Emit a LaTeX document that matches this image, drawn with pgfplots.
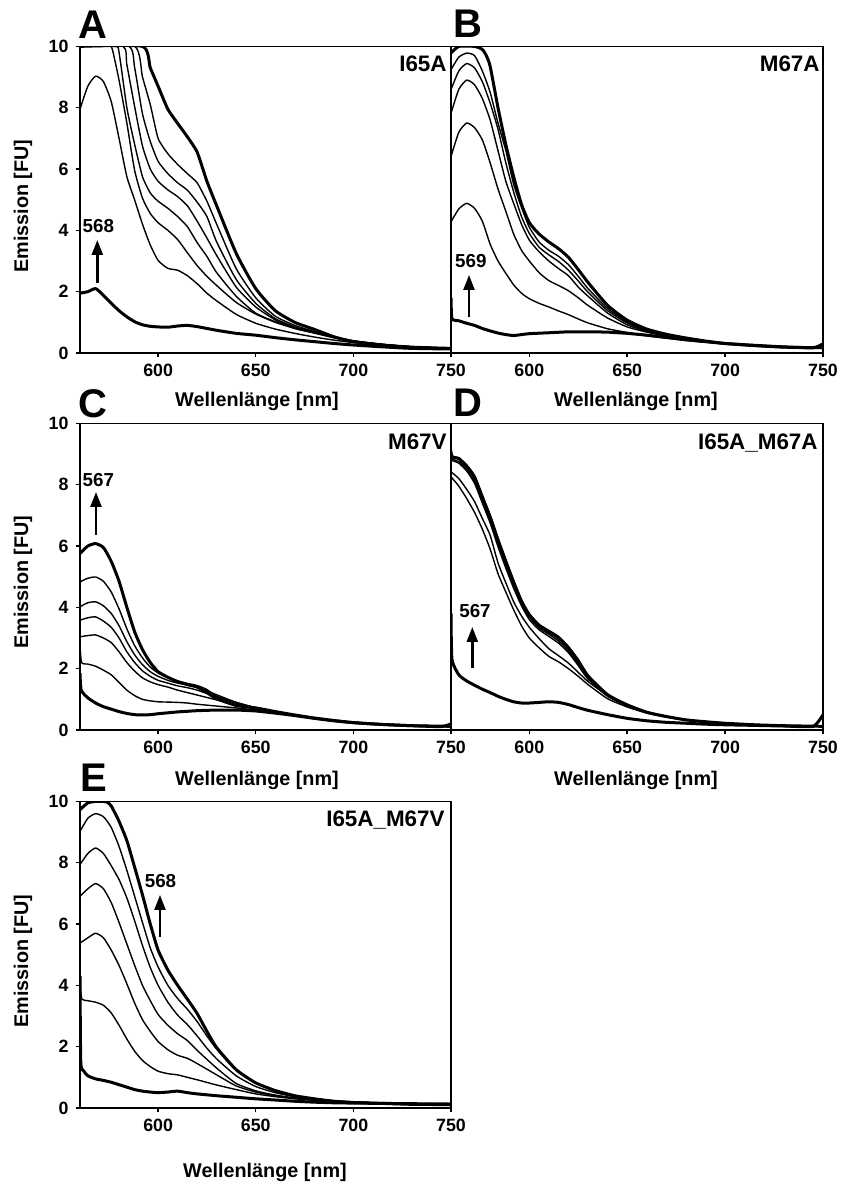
\documentclass[border=0pt]{standalone}
\usepackage{fontspec}
\setmainfont{Liberation Sans}
\usepackage{pgfplots}
\pgfplotsset{compat=1.18}
\usetikzlibrary{arrows.meta}
\pgfplotsset{
  panel/.style={scale only axis, width=185.5pt, height=153.3pt,
    xmin=560, xmax=750, ymin=0, ymax=10,
    xtick={600,650,700,750}, ytick={0,2,4,6,8,10},
    tick align=outside, tick pos=left, major tick length=2.2pt,
    axis line style={line width=0.75pt},
    every tick/.style={black, line width=0.75pt},
    tick label style={font=\bfseries\fontsize{8.9}{10}\selectfont},
    /pgf/number format/assume math mode=true,
    every axis plot/.append style={black, line join=round, smooth, tension=0.35, mark=none}},
  thn/.style={line width=0.7pt},
  thk/.style={line width=1.5pt},
}
\begin{document}
\begin{tikzpicture}
\useasboundingbox (0,0) rectangle (420pt,591pt);
% ---------------- A ----------------
\begin{axis}[panel, at={(40pt,414.5pt)}, anchor=south west]
\addplot[thk] coordinates {(560,1.95)(564,2.0)(568,2.1)(572,1.88)(576,1.62)(580,1.38)(584,1.18)(588,1.02)(592,0.92)(596,0.87)(600,0.85)(605,0.84)(610,0.88)(615,0.9)(620,0.86)(625,0.8)(630,0.74)(640,0.64)(650,0.58)(660,0.5)(670,0.43)(680,0.37)(690,0.31)(700,0.26)(715,0.2)(730,0.15)(750,0.13)};
\addplot[thn] coordinates {(560,7.95)(564,8.7)(568,9.03)(572,8.85)(576,8.2)(580,7.0)(584,5.75)(588,4.99)(592,4.2)(596,3.52)(600,3.02)(605,2.76)(610,2.7)(615,2.52)(620,2.26)(625,1.95)(630,1.7)(640,1.26)(650,0.97)(660,0.78)(670,0.64)(680,0.52)(690,0.42)(700,0.34)(715,0.25)(730,0.19)(750,0.15)};
\addplot[thn] coordinates {(560,10)(572,10)(576,10)(578,9.5)(580,8.9)(584,7.5)(588,5.95)(592,5.05)(596,4.55)(600,4.25)(605,4.0)(610,3.7)(615,3.27)(620,2.85)(625,2.5)(630,2.2)(640,1.65)(650,1.27)(660,1.0)(670,0.8)(680,0.65)(690,0.5)(700,0.38)(715,0.27)(730,0.2)(750,0.15)};
\addplot[thn] coordinates {(560,10)(578,10)(580,9.8)(584,8.0)(588,6.8)(592,5.75)(596,5.22)(600,4.95)(605,4.72)(610,4.45)(615,4.12)(620,3.6)(625,3.15)(630,2.62)(640,1.85)(650,1.3)(660,1.02)(670,0.82)(680,0.66)(690,0.5)(700,0.38)(715,0.27)(730,0.2)(750,0.15)};
\addplot[thn] coordinates {(560,10)(582,10)(584,9.4)(588,8.03)(592,6.75)(596,6.0)(600,5.6)(605,5.32)(610,5.1)(615,4.8)(620,4.3)(625,3.75)(630,3.18)(640,2.15)(650,1.5)(660,1.08)(670,0.8)(680,0.66)(690,0.52)(700,0.39)(715,0.28)(730,0.2)(750,0.15)};
\addplot[thn] coordinates {(560,10)(585,10)(588,9.3)(592,7.8)(596,6.9)(600,6.25)(605,5.85)(610,5.55)(615,5.31)(620,4.92)(625,4.45)(630,3.62)(640,2.4)(650,1.62)(660,1.12)(670,0.85)(680,0.68)(690,0.52)(700,0.39)(715,0.28)(730,0.2)(750,0.15)};
\addplot[thn] coordinates {(560,10)(588,10)(592,9.0)(596,8.1)(600,7.0)(605,6.5)(610,6.15)(615,5.85)(620,5.55)(625,4.95)(630,4.2)(640,2.75)(650,1.8)(660,1.2)(670,0.9)(680,0.7)(690,0.53)(700,0.4)(715,0.28)(730,0.2)(750,0.15)};
\addplot[thk] coordinates {(560,10)(592,10)(596,9.3)(600,8.7)(605,7.95)(610,7.49)(615,7.05)(620,6.55)(625,5.6)(630,4.8)(640,3.25)(650,2.1)(660,1.38)(670,1.0)(680,0.77)(690,0.53)(700,0.37)(715,0.26)(730,0.19)(750,0.15)};
\end{axis}
% ---------------- B ----------------
\begin{axis}[panel, at={(225.5pt,414.5pt)}, anchor=south west, width=186pt, ytick=\empty]
\addplot[thk] coordinates {(560,1.8)(560.5,1.12)(564,1.05)(568,0.97)(572,0.9)(576,0.8)(580,0.72)(584,0.65)(588,0.6)(592,0.57)(596,0.6)(600,0.63)(610,0.66)(620,0.69)(630,0.69)(640,0.68)(650,0.64)(660,0.58)(670,0.51)(680,0.43)(690,0.37)(700,0.31)(715,0.25)(730,0.2)(745,0.17)(750,0.3)};
\addplot[thn] coordinates {(560,4.28)(564,4.7)(568,4.88)(572,4.72)(576,4.3)(580,3.55)(584,3.0)(588,2.6)(592,2.22)(596,1.95)(600,1.77)(605,1.62)(610,1.5)(615,1.37)(620,1.25)(625,1.11)(630,0.98)(640,0.79)(650,0.67)(660,0.56)(670,0.48)(680,0.41)(690,0.35)(700,0.3)(715,0.24)(730,0.19)(750,0.17)};
\addplot[thn] coordinates {(560,6.41)(564,7.2)(568,7.5)(572,7.35)(576,6.95)(580,6.2)(584,5.35)(588,4.62)(592,3.88)(596,3.35)(600,3.0)(605,2.62)(610,2.36)(615,2.2)(620,2.03)(625,1.8)(630,1.55)(640,1.14)(650,0.85)(660,0.68)(670,0.55)(680,0.45)(690,0.37)(700,0.31)(715,0.24)(730,0.19)(750,0.17)};
\addplot[thn] coordinates {(560,7.82)(564,8.6)(568,8.9)(572,8.75)(576,8.3)(580,7.6)(584,6.6)(588,5.6)(592,4.88)(596,4.2)(600,3.68)(605,3.3)(610,3.0)(615,2.75)(620,2.52)(625,2.15)(630,1.85)(640,1.3)(650,0.92)(660,0.7)(670,0.56)(680,0.46)(690,0.38)(700,0.31)(715,0.24)(730,0.19)(750,0.17)};
\addplot[thn] coordinates {(560,8.59)(564,9.2)(568,9.44)(572,9.3)(576,8.85)(580,8.15)(584,7.3)(588,6.2)(592,5.25)(596,4.45)(600,3.9)(605,3.45)(610,3.2)(615,2.98)(620,2.7)(625,2.35)(630,1.98)(640,1.38)(650,0.98)(660,0.73)(670,0.58)(680,0.47)(690,0.38)(700,0.31)(715,0.24)(730,0.19)(750,0.17)};
\addplot[thn] coordinates {(560,9.24)(564,9.65)(568,9.78)(572,9.7)(576,9.2)(580,8.5)(584,7.5)(588,6.6)(592,5.5)(596,4.75)(600,4.1)(605,3.62)(610,3.35)(615,3.15)(620,2.88)(625,2.5)(630,2.1)(640,1.45)(650,1.02)(660,0.76)(670,0.6)(680,0.48)(690,0.39)(700,0.31)(715,0.24)(730,0.19)(750,0.17)};
\addplot[thk] coordinates {(560,9.78)(564,10)(572,10)(576,9.9)(578,9.7)(580,9.35)(584,8.0)(588,6.8)(592,5.75)(596,4.85)(600,4.25)(605,3.88)(610,3.62)(615,3.4)(620,3.12)(625,2.72)(630,2.3)(640,1.55)(650,1.07)(660,0.78)(670,0.61)(680,0.49)(690,0.39)(700,0.31)(715,0.24)(730,0.19)(750,0.17)};
\end{axis}
% ---------------- C ----------------
\begin{axis}[panel, at={(40pt,226pt)}, anchor=south west]
\addplot[thk] coordinates {(560,1.85)(560.6,1.3)(564,1.05)(568,0.88)(572,0.76)(576,0.68)(580,0.6)(584,0.54)(588,0.5)(592,0.49)(596,0.5)(600,0.53)(605,0.56)(610,0.59)(615,0.61)(620,0.63)(630,0.65)(640,0.65)(650,0.62)(660,0.55)(670,0.47)(680,0.38)(690,0.3)(700,0.24)(715,0.18)(730,0.14)(745,0.11)(750,0.2)};
\addplot[thn] coordinates {(560,2.8)(560.8,2.2)(564,2.15)(568,2.08)(572,1.95)(576,1.8)(580,1.55)(584,1.3)(588,1.12)(592,1.0)(596,0.95)(600,0.92)(605,0.91)(610,0.9)(615,0.88)(620,0.84)(630,0.78)(640,0.72)(650,0.65)(660,0.56)(670,0.48)(680,0.39)(690,0.31)(700,0.24)(715,0.18)(730,0.14)(750,0.12)};
\addplot[thn] coordinates {(560,3.04)(564,3.08)(568,3.1)(572,3.0)(576,2.85)(580,2.55)(584,2.2)(588,1.92)(592,1.7)(596,1.57)(600,1.48)(605,1.4)(610,1.3)(615,1.22)(620,1.14)(630,0.98)(640,0.82)(650,0.68)(660,0.57)(670,0.48)(680,0.39)(690,0.31)(700,0.24)(715,0.18)(730,0.14)(750,0.12)};
\addplot[thn] coordinates {(560,3.58)(564,3.66)(568,3.69)(572,3.55)(576,3.35)(580,3.0)(584,2.55)(588,2.2)(592,1.93)(596,1.75)(600,1.62)(605,1.53)(610,1.44)(615,1.38)(620,1.3)(630,1.08)(640,0.87)(650,0.7)(660,0.58)(670,0.48)(680,0.39)(690,0.31)(700,0.24)(715,0.18)(730,0.14)(750,0.12)};
\addplot[thn] coordinates {(560,4.02)(564,4.15)(568,4.18)(572,4.05)(576,3.8)(580,3.4)(584,2.88)(588,2.45)(592,2.13)(596,1.9)(600,1.75)(605,1.62)(610,1.53)(615,1.47)(620,1.4)(630,1.15)(640,0.9)(650,0.72)(660,0.58)(670,0.48)(680,0.39)(690,0.31)(700,0.24)(715,0.18)(730,0.14)(750,0.12)};
\addplot[thn] coordinates {(560,4.83)(564,4.95)(568,4.99)(572,4.85)(576,4.5)(580,3.95)(584,3.3)(588,2.75)(592,2.35)(596,2.05)(600,1.86)(605,1.7)(610,1.6)(615,1.52)(620,1.45)(625,1.32)(630,1.1)(640,0.9)(650,0.73)(660,0.6)(670,0.49)(680,0.39)(690,0.31)(700,0.24)(715,0.18)(730,0.14)(750,0.12)};
\addplot[thk] coordinates {(560,5.76)(564,6.0)(568,6.08)(572,5.95)(576,5.5)(580,4.85)(584,4.0)(588,3.2)(592,2.62)(596,2.2)(600,1.9)(605,1.72)(610,1.58)(615,1.48)(620,1.4)(625,1.22)(630,1.02)(640,0.8)(650,0.72)(660,0.6)(670,0.49)(680,0.39)(690,0.31)(700,0.24)(715,0.18)(730,0.14)(750,0.12)};
\end{axis}
% ---------------- D ----------------
\begin{axis}[panel, at={(225.5pt,226pt)}, anchor=south west, width=186pt, ytick=\empty]
\addplot[thk] coordinates {(560,3.8)(560.5,2.3)(564,1.8)(568,1.6)(572,1.46)(576,1.33)(580,1.22)(584,1.1)(588,1.0)(592,0.92)(596,0.88)(600,0.88)(605,0.9)(610,0.92)(615,0.9)(620,0.83)(625,0.73)(630,0.64)(640,0.5)(650,0.38)(660,0.3)(670,0.25)(680,0.22)(690,0.19)(700,0.17)(715,0.15)(730,0.13)(745,0.12)(750,0.5)};
\addplot[thn] coordinates {(560,8.26)(564,7.95)(568,7.55)(572,7.1)(576,6.55)(580,5.9)(584,5.1)(588,4.5)(592,3.92)(596,3.4)(600,3.0)(605,2.68)(610,2.4)(615,2.22)(620,2.0)(625,1.75)(630,1.48)(640,1.02)(650,0.75)(660,0.55)(670,0.42)(680,0.32)(690,0.26)(700,0.21)(715,0.17)(730,0.14)(750,0.12)};
\addplot[thn] coordinates {(560,8.42)(564,8.2)(568,7.85)(572,7.45)(576,6.9)(580,6.35)(584,5.45)(588,4.8)(592,4.18)(596,3.72)(600,3.35)(605,2.98)(610,2.65)(615,2.42)(620,2.18)(625,1.88)(630,1.58)(640,1.12)(650,0.8)(660,0.58)(670,0.44)(680,0.33)(690,0.27)(700,0.22)(715,0.17)(730,0.14)(750,0.12)};
\addplot[thn] coordinates {(560,8.8)(564,8.7)(568,8.45)(572,8.05)(576,7.4)(580,6.75)(584,5.98)(588,5.28)(592,4.62)(596,4.05)(600,3.6)(605,3.27)(610,3.05)(615,2.83)(620,2.52)(625,2.1)(630,1.66)(640,1.1)(650,0.79)(660,0.57)(670,0.43)(680,0.33)(690,0.27)(700,0.22)(715,0.17)(730,0.14)(750,0.12)};
\addplot[thn] coordinates {(560,8.85)(564,8.75)(568,8.5)(572,8.12)(576,7.5)(580,6.85)(584,6.1)(588,5.4)(592,4.72)(596,4.12)(600,3.68)(605,3.33)(610,3.12)(615,2.9)(620,2.58)(625,2.15)(630,1.7)(640,1.12)(650,0.8)(660,0.57)(670,0.43)(680,0.33)(690,0.27)(700,0.22)(715,0.17)(730,0.14)(750,0.12)};
\addplot[thn] coordinates {(560,9.2)(561,8.92)(564,8.88)(568,8.65)(572,8.3)(576,7.65)(580,7.0)(584,6.25)(588,5.55)(592,4.88)(596,4.25)(600,3.8)(605,3.45)(610,3.25)(615,3.05)(620,2.72)(625,2.3)(630,1.8)(640,1.17)(650,0.83)(660,0.59)(670,0.45)(680,0.34)(690,0.27)(700,0.22)(715,0.17)(730,0.14)(750,0.12)};
\addplot[thk] coordinates {(560,8.91)(564,8.85)(568,8.6)(572,8.25)(576,7.6)(580,6.95)(584,6.2)(588,5.5)(592,4.82)(596,4.2)(600,3.75)(605,3.4)(610,3.2)(615,3.0)(620,2.68)(625,2.25)(630,1.75)(640,1.15)(650,0.82)(660,0.58)(670,0.44)(680,0.33)(690,0.27)(700,0.22)(715,0.17)(730,0.14)(750,0.12)};
\end{axis}
% ---------------- E ----------------
\begin{axis}[panel, at={(40pt,37pt)}, anchor=south west]
\addplot[thk] coordinates {(560,4.3)(560.4,1.5)(562,1.2)(564,1.05)(568,0.95)(572,0.9)(576,0.84)(580,0.76)(584,0.68)(588,0.6)(592,0.55)(596,0.52)(600,0.5)(605,0.52)(610,0.55)(615,0.5)(620,0.46)(630,0.4)(640,0.35)(650,0.3)(660,0.26)(670,0.22)(680,0.19)(690,0.17)(700,0.16)(715,0.15)(730,0.14)(750,0.13)};
\addplot[thn] coordinates {(560,4.0)(561,3.55)(564,3.5)(568,3.45)(572,3.35)(576,3.1)(580,2.7)(584,2.25)(588,1.85)(592,1.55)(596,1.35)(600,1.2)(605,1.12)(610,1.08)(615,1.0)(620,0.92)(630,0.75)(640,0.6)(650,0.46)(660,0.37)(670,0.3)(680,0.25)(690,0.21)(700,0.18)(715,0.16)(730,0.14)(750,0.13)};
\addplot[thn] coordinates {(560,5.38)(564,5.55)(568,5.7)(572,5.55)(576,5.15)(580,4.65)(584,4.05)(588,3.42)(592,2.88)(596,2.5)(600,2.17)(605,1.9)(610,1.72)(615,1.62)(620,1.45)(630,1.08)(640,0.72)(650,0.52)(660,0.4)(670,0.32)(680,0.26)(690,0.22)(700,0.19)(715,0.16)(730,0.14)(750,0.13)};
\addplot[thn] coordinates {(560,6.9)(564,7.15)(568,7.32)(572,7.15)(576,6.7)(580,6.05)(584,5.35)(588,4.65)(592,4.0)(596,3.5)(600,3.05)(605,2.7)(610,2.42)(615,2.2)(620,1.88)(630,1.3)(640,0.8)(650,0.56)(660,0.42)(670,0.33)(680,0.27)(690,0.22)(700,0.19)(715,0.16)(730,0.14)(750,0.13)};
\addplot[thn] coordinates {(560,7.94)(564,8.3)(568,8.48)(572,8.3)(576,7.9)(580,7.45)(584,6.85)(588,6.1)(592,5.3)(596,4.58)(600,4.0)(605,3.45)(610,3.03)(615,2.72)(620,2.35)(625,1.95)(630,1.6)(640,1.05)(650,0.7)(660,0.5)(670,0.37)(680,0.29)(690,0.23)(700,0.19)(715,0.16)(730,0.14)(750,0.13)};
\addplot[thn] coordinates {(560,9.02)(564,9.45)(568,9.6)(572,9.5)(576,9.15)(580,8.53)(584,7.75)(588,6.9)(592,6.05)(596,5.22)(600,4.6)(605,4.0)(610,3.57)(615,3.22)(620,2.82)(625,2.35)(630,1.92)(640,1.22)(650,0.82)(660,0.56)(670,0.4)(680,0.3)(690,0.24)(700,0.2)(715,0.16)(730,0.14)(750,0.13)};
\addplot[thk] coordinates {(560,9.73)(564,9.95)(568,10)(572,10)(574,9.97)(576,9.85)(580,9.35)(584,8.72)(588,7.85)(592,6.95)(596,6.0)(600,5.15)(605,4.5)(610,4.0)(615,3.55)(620,3.08)(625,2.5)(630,1.97)(640,1.25)(650,0.82)(660,0.57)(670,0.4)(680,0.3)(690,0.22)(700,0.18)(715,0.15)(730,0.12)(750,0.11)};
\end{axis}
% ---------------- annotations (pixel coordinates) ----------------
\begin{scope}[x=0.5pt, y=-0.5pt, shift={(0pt,591pt)}]
\tikzset{lab/.style={font=\bfseries\fontsize{9.9}{11}\selectfont, inner sep=0pt},
  big/.style={font=\bfseries\fontsize{20}{22}\selectfont, inner sep=0pt},
  nam/.style={font=\bfseries\fontsize{11.2}{13}\selectfont, inner sep=0pt},
  num/.style={font=\bfseries\fontsize{9.4}{11}\selectfont, inner sep=0pt},
  arr/.style={line width=1.2pt, -{Triangle[length=7.5pt,width=5.5pt]}}}
\node[big, anchor=base west] at (78,39) {A};
\node[big, anchor=base west] at (453,38) {B};
\node[big, anchor=base west] at (78,418) {C};
\node[big, anchor=base west] at (453,417) {D};
\node[big, anchor=base west] at (80,792) {E};
\node[lab, rotate=90] at (23,206) {Emission [FU]};
\node[lab, rotate=90] at (23,582) {Emission [FU]};
\node[lab, rotate=90] at (23,961) {Emission [FU]};
\node[lab, anchor=base] at (257,407) {Wellenlänge [nm]};
\node[lab, anchor=base] at (636,407) {Wellenlänge [nm]};
\node[lab, anchor=base] at (257,786) {Wellenlänge [nm]};
\node[lab, anchor=base] at (636,786) {Wellenlänge [nm]};
\node[lab, anchor=base] at (265,1178) {Wellenlänge [nm]};
\node[nam, anchor=base east] at (447,72) {I65A};
\node[nam, anchor=base east] at (820,72) {M67A};
\node[nam, anchor=base east] at (447,450) {M67V};
\node[nam, anchor=base east] at (818,450) {I65A\_M67A};
\node[nam, anchor=base east] at (445,827) {I65A\_M67V};
\node[num, anchor=base] at (98.3,233) {568};
\draw[arr] (97.3,283) -- (97.3,240);
\node[num, anchor=base] at (470.8,268) {569};
\draw[arr] (469,317) -- (469,275);
\node[num, anchor=base] at (98.3,487) {567};
\draw[arr] (96,535) -- (96,492);
\node[num, anchor=base] at (475,618) {567};
\draw[arr] (472.3,668) -- (472.3,627);
\node[num, anchor=base] at (160.5,888) {568};
\draw[arr] (160,937) -- (160,895);
\end{scope}
\end{tikzpicture}
\end{document}
